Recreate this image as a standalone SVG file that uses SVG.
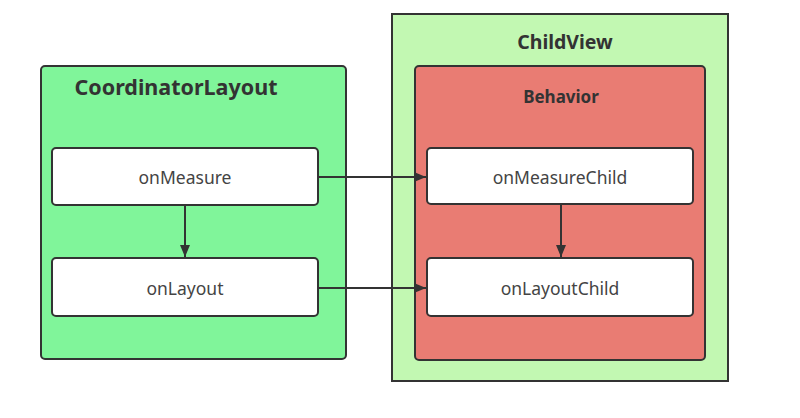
<svg xmlns="http://www.w3.org/2000/svg" width="800" height="418" viewBox="0 0 800 418">
<style>
.frame{stroke:#333;stroke-width:2}
.box{fill:#fff;stroke:#333;stroke-width:2}
.lbl{font-family:"Noto Sans","Open Sans",sans-serif;font-size:17.5px;fill:#444;text-anchor:middle;dominant-baseline:central}
.ttl{font-family:"Noto Sans","Open Sans",sans-serif;font-weight:bold;fill:#333;text-anchor:middle;dominant-baseline:central}
.conn{stroke:#333;stroke-width:2;fill:none}
</style>
<defs>
<marker id="ah" viewBox="0 0 12 10" refX="12" refY="5" markerWidth="12" markerHeight="10" markerUnits="userSpaceOnUse" orient="auto">
<path d="M0,0 L12,5 L0,10 Z" fill="#333"/>
</marker>
</defs>
<rect width="800" height="418" fill="#fff"/>
<g id="coordinatorLayout">
<rect class="frame" x="41" y="66" width="305" height="293" rx="4" fill="#80F59A"/>
<text class="ttl" x="176" y="86" font-size="21.5">CoordinatorLayout</text>
</g>
<g id="childView">
<rect class="frame" x="392" y="14" width="336" height="367" fill="#C2F8B2"/>
<text class="ttl" x="565" y="41" font-size="19.5">ChildView</text>
</g>
<g id="behavior">
<rect class="frame" x="415" y="66" width="290" height="294" rx="4" fill="#E97C73"/>
<text class="ttl" x="561" y="96" font-size="17">Behavior</text>
</g>
<g id="onMeasure">
<rect class="box" x="52" y="148" width="266" height="57" rx="4"/>
<text class="lbl" x="185" y="177">onMeasure</text>
</g>
<g id="onLayout">
<rect class="box" x="52" y="258" width="266" height="58" rx="4"/>
<text class="lbl" x="185" y="288">onLayout</text>
</g>
<g id="onMeasureChild">
<rect class="box" x="427" y="148" width="266" height="56" rx="4"/>
<text class="lbl" x="560" y="177">onMeasureChild</text>
</g>
<g id="onLayoutChild">
<rect class="box" x="427" y="258" width="266" height="58" rx="4"/>
<text class="lbl" x="560" y="288">onLayoutChild</text>
</g>
<g id="connectors">
<line class="conn" x1="318" y1="177" x2="426" y2="177" marker-end="url(#ah)"/>
<line class="conn" x1="318" y1="288" x2="426" y2="288" marker-end="url(#ah)"/>
<line class="conn" x1="185" y1="205" x2="185" y2="257" marker-end="url(#ah)"/>
<line class="conn" x1="561" y1="204" x2="561" y2="257" marker-end="url(#ah)"/>
</g>
</svg>
